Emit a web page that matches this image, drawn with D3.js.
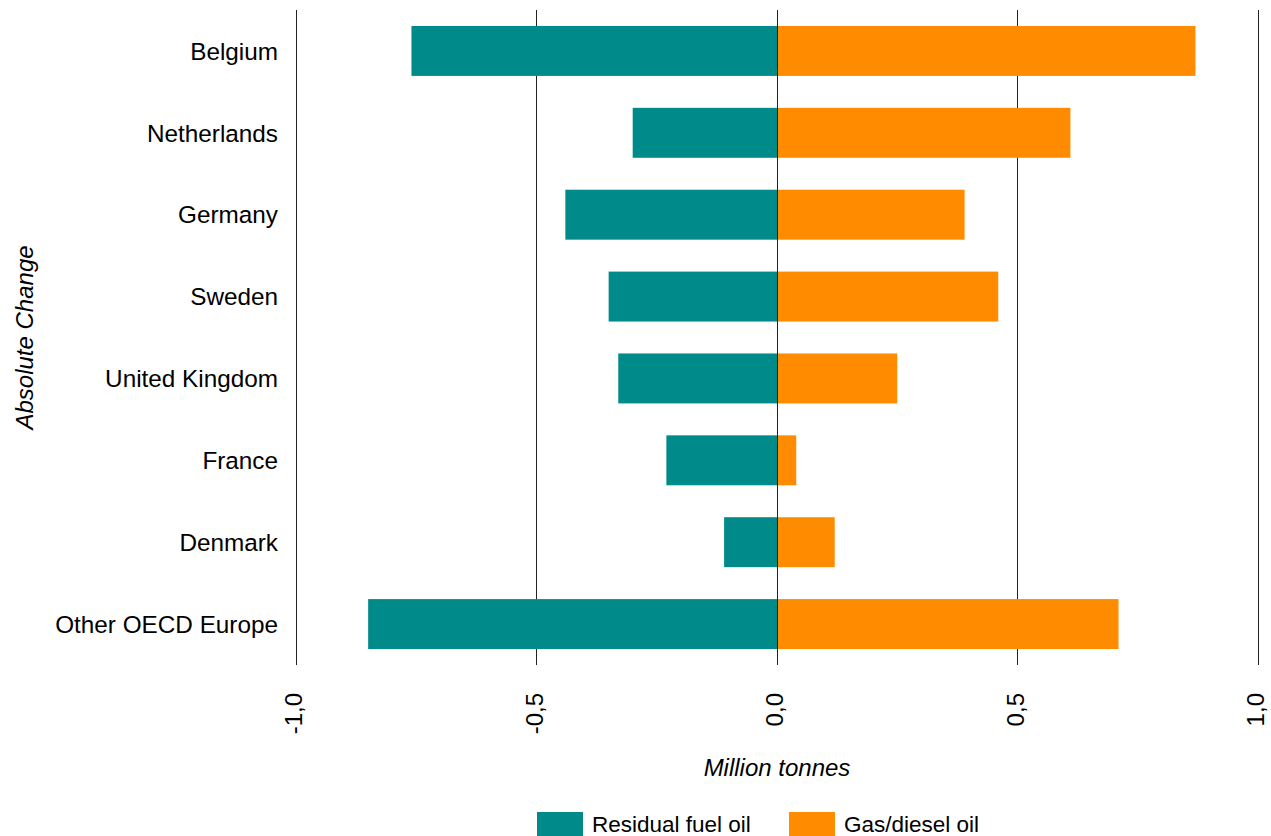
<!DOCTYPE html>
<html>
<head>
<meta charset="utf-8">
<script src="https://cdn.jsdelivr.net/npm/d3@7"></script>
<style>
  html, body { margin: 0; padding: 0; background: #ffffff; }
  svg { display: block; font-family: "Liberation Sans", Arial, sans-serif; }
</style>
</head>
<body>
<svg id="chart" width="1271" height="836"></svg>
<script>
// Countries, top to bottom
const countries = ["Belgium", "Netherlands", "Germany", "Sweden", "United Kingdom", "France", "Denmark", "Other OECD Europe"];
// Absolute change, million tonnes
const residualFuelOil = [-0.76, -0.30, -0.44, -0.35, -0.33, -0.23, -0.11, -0.85];
const gasDieselOil   = [0.87, 0.61, 0.39, 0.46, 0.25, 0.04, 0.12, 0.71];
const xTicks = [-1.0, -0.5, 0.0, 0.5, 1.0];
const seriesNames = ["Residual fuel oil", "Gas/diesel oil"];
const seriesColors = ["#008b8a", "#ff8c00"];

const svg = d3.select("#chart");
const plotLeft = 296, plotRight = 1258, plotTop = 10, plotBottom = 665;

const x = d3.scaleLinear().domain([-1, 1]).range([plotLeft, plotRight]);
const y = d3.scaleBand().domain(countries).range([plotTop, plotBottom])
  .paddingInner(0.39).paddingOuter(0.195);

// vertical gridlines (behind bars)
svg.append("g").selectAll("line").data(xTicks.filter(d => d !== 0)).join("line")
  .attr("x1", d => x(d)).attr("x2", d => x(d))
  .attr("y1", plotTop).attr("y2", plotBottom)
  .attr("stroke", "#222").attr("stroke-width", 1).attr("shape-rendering", "crispEdges");

// bars
const series = [residualFuelOil, gasDieselOil];
series.forEach((vals, si) => {
  svg.append("g").selectAll("rect").data(countries).join("rect")
    .attr("x", (c, i) => x(Math.min(0, vals[i])))
    .attr("width", (c, i) => Math.abs(x(vals[i]) - x(0)))
    .attr("y", c => y(c))
    .attr("height", y.bandwidth())
    .attr("fill", seriesColors[si]);
});

// zero line drawn over bars
svg.append("line")
  .attr("x1", x(0)).attr("x2", x(0)).attr("y1", plotTop).attr("y2", plotBottom)
  .attr("stroke", "#222").attr("stroke-width", 1).attr("shape-rendering", "crispEdges");

// x tick labels, rotated
const fmt = d => d3.format(".1f")(d).replace("−", "-").replace(".", ",");
svg.append("g").selectAll("text").data(xTicks).join("text")
  .attr("transform", d => `translate(${x(d)},693) rotate(-90)`)
  .attr("text-anchor", "end")
  .attr("dy", "0.27em")
  .attr("font-size", 24)
  .attr("fill", "#000")
  .text(fmt);

// category labels
svg.append("g").selectAll("text").data(countries).join("text")
  .attr("x", 278)
  .attr("y", c => y(c) + y.bandwidth() / 2)
  .attr("dy", "0.36em")
  .attr("text-anchor", "end")
  .attr("font-size", 24.3)
  .attr("fill", "#000")
  .text(c => c);

// axis titles
svg.append("text")
  .attr("x", x(0)).attr("y", 776)
  .attr("text-anchor", "middle")
  .attr("font-size", 24).attr("font-style", "italic")
  .text("Million tonnes");

svg.append("text")
  .attr("transform", `translate(33,${(plotTop + plotBottom) / 2}) rotate(-90)`)
  .attr("text-anchor", "middle")
  .attr("font-size", 24).attr("font-style", "italic")
  .text("Absolute Change");

// legend
const legendX = [537, 789];
const lg = svg.append("g").selectAll("g").data(seriesNames).join("g")
  .attr("transform", (d, i) => `translate(${legendX[i]},812)`);
lg.append("rect").attr("width", 46).attr("height", 46)
  .attr("fill", (d, i) => seriesColors[i]);
lg.append("text").attr("x", 55).attr("y", 19.5)
  .attr("font-size", 22.5).attr("fill", "#000")
  .text(d => d);
</script>
</body>
</html>
